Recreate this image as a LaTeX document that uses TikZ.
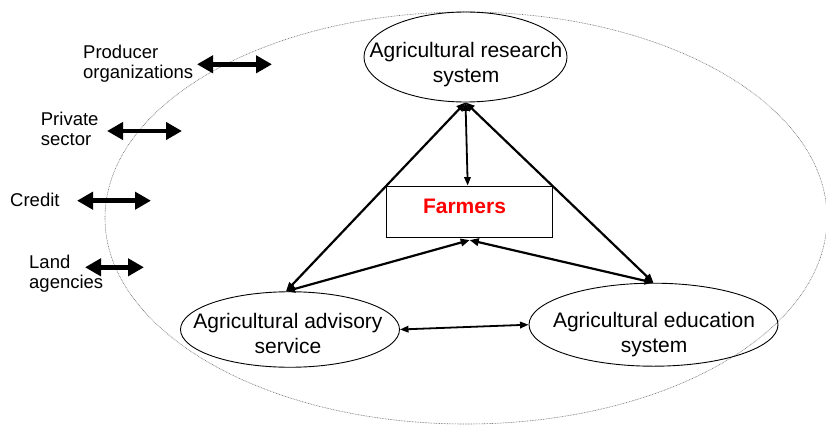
\documentclass[tikz,border=0pt]{standalone}
\usepackage{fontspec}
\setmainfont{Liberation Sans}
\usetikzlibrary{shapes.geometric,arrows.meta}
\begin{document}
\begin{tikzpicture}[x=1pt,y=-1pt,
  actor/.style={ellipse, draw, line width=0.9pt, inner sep=0pt},
  actortext/.style={align=center, inner sep=0pt, font=\fontsize{21}{25}\selectfont},
  sidetext/.style={align=left, anchor=west, inner sep=0pt, font=\fontsize{18.5}{20}\selectfont},
  link/.style={line width=2.2pt, {Triangle[length=9pt,width=7.5pt]}-{Triangle[length=9pt,width=7.5pt]}},
  thinlink/.style={line width=1.8pt, {Triangle[length=8.5pt,width=6.5pt]}-{Triangle[length=8.5pt,width=6.5pt]}},
  outerlink/.style={line width=4.5pt, {Triangle[length=16pt,width=17pt]}-{Triangle[length=16pt,width=17pt]}},
]
\useasboundingbox (0,0) rectangle (826,425);

% boundary of the knowledge system
\node[ellipse, draw=black!55, line width=0.6pt, dash pattern=on 0.8pt off 0.8pt,
      minimum width=722pt, minimum height=412pt, inner sep=0pt] (network) at (466,218) {};

% core actors
\node[actor, minimum width=203pt, minimum height=90pt] (research) at (465.5,57) {};
\node[actortext] (researchtext) at (466,64.5) {Agricultural research\\system};

\node[actor, minimum width=219pt, minimum height=75.5pt] (advisory) at (290,329.5) {};
\node[actortext] (advisorytext) at (288,333) {Agricultural advisory\\service};

\node[actor, minimum width=249pt, minimum height=83pt] (education) at (653.5,324.7) {};
\node[actortext] (educationtext) at (654,334.5) {Agricultural education\\system};

\node[draw, line width=0.8pt, minimum width=166pt, minimum height=51.7pt, inner sep=0pt] (farmers) at (469.7,211.85) {};
\node[inner sep=0pt, text=red, font=\fontsize{21}{25}\selectfont\bfseries] (farmerstext) at (464.5,206.3) {Farmers};

% links between the actors
\draw[link] (research.south) -- (advisory.96);
\draw[link] (research.south) -- (education.north);
\draw[thinlink] (research.south) -- ([xshift=-2pt]farmers.north);
\draw[link] (advisory.96) -- ([yshift=-2pt]farmers.south);
\draw[link] ([yshift=-2pt]farmers.south) -- (education.north);
\draw[thinlink] (advisory.east) -- (education.west);

% outside stakeholders
\node[sidetext] (producers) at (83,63.6) {Producer\\organizations};
\node[sidetext] (private) at (40.7,128.4) {Private\\sector};
\node[sidetext] (credit) at (10,200) {Credit};
\node[sidetext] (land) at (29,273.6) {Land\\agencies};

\coordinate (producersA) at (197,64.3);
\coordinate (producersB) at (272,64.3);
\coordinate (privateA) at (107,131);
\coordinate (privateB) at (182,131);
\coordinate (creditA) at (77,200.7);
\coordinate (creditB) at (151,200.7);
\coordinate (landA) at (85,267.3);
\coordinate (landB) at (144,267.3);

\draw[outerlink] (producersA) -- (producersB);
\draw[outerlink] (privateA) -- (privateB);
\draw[outerlink] (creditA) -- (creditB);
\draw[outerlink] (landA) -- (landB);
\end{tikzpicture}
\end{document}
